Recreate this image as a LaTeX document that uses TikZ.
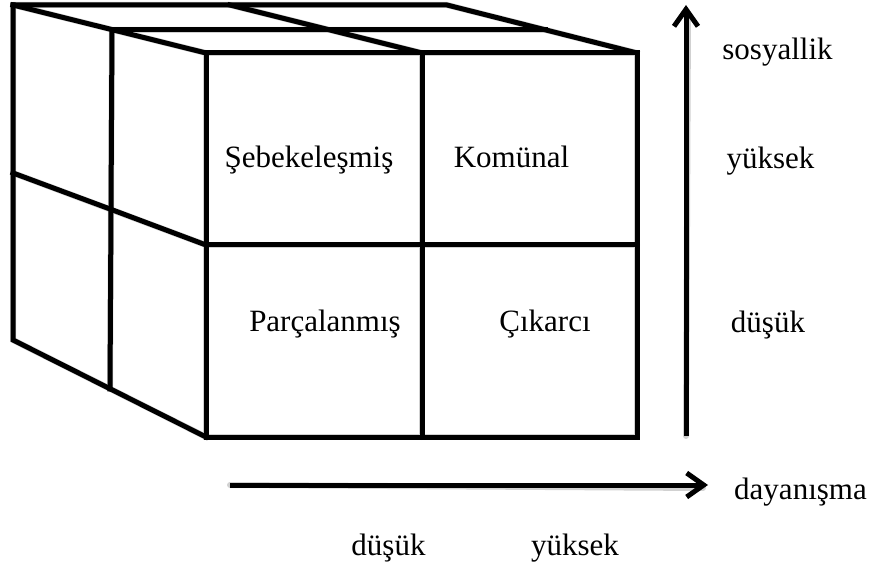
\documentclass[tikz,border=0pt]{standalone}
\usepackage{fontspec}
\setmainfont{Liberation Serif}
\usetikzlibrary{arrows.meta}
\begin{document}
\begin{tikzpicture}[x=1pt,y=-1pt,
  edge/.style={line width=5pt, line join=miter, line cap=rect},
  shade/.style={line width=6pt, black!18, line cap=round},
  axis/.style={line width=5pt, -{Straight Barb[length=17pt,width=24pt,line width=5pt]}},
  lbl/.style={anchor=base, inner sep=0pt, font=\fontsize{31}{36}\selectfont}]
\useasboundingbox (0,0) rectangle (879,572);
% corner coordinates
\coordinate (Ftl) at (206,53);  \coordinate (Ftr) at (637,53);
\coordinate (Fbl) at (206,437); \coordinate (Fbr) at (637,437);
\coordinate (Ftm) at (422,53);  \coordinate (Fbm) at (422,437);
\coordinate (Fml) at (206,245); \coordinate (Fmr) at (637,245);
\coordinate (Mtl) at (112,30);  \coordinate (Mtr) at (545,30);
\coordinate (Mml) at (110,209); \coordinate (Mbl) at (110,389);
\coordinate (Btl) at (13,5);    \coordinate (Btr) at (447,5);
\coordinate (Btm) at (230,5);
\coordinate (Bml) at (13,173);  \coordinate (Bbl) at (13,340);
\coordinate (VA0) at (686,436); \coordinate (VA1) at (686,5);
\coordinate (HA0) at (230,485); \coordinate (HA1) at (708,485);
% soft shadows
\begin{scope}[shift={(2,3)}]
\draw[shade] (Ftl) rectangle (Fbr) (Ftm) -- (Fbm) (Fml) -- (Fmr);
\draw[shade] (Btl) -- (Btr) -- (Ftr) (Btl) -- (Ftl) (Btm) -- (Ftm) (Mtl) -- (Mtr);
\draw[shade] (Btl) -- (Bbl) -- (Fbl) (Bml) -- (Fml) (Mtl) -- (Mbl);
\draw[shade] (VA0) -- (686,12) (HA0) -- (701,485);
\end{scope}
% front face
\draw[edge] (Ftl) rectangle (Fbr);
\draw[edge] (Ftm) -- (Fbm);
\draw[edge] (Fml) -- (Fmr);
% top face
\draw[edge] (Btl) -- (Btr) -- (Ftr);
\draw[edge] (Btl) -- (Ftl);
\draw[edge] (Btm) -- (Ftm);
\draw[edge] (Mtl) -- (Mtr);
% left face
\draw[edge] (Btl) -- (Bbl) -- (Fbl);
\draw[edge] (Bml) -- (Mml) -- (Fml);
\draw[edge] (Mtl) -- (Mbl);
% axes
\draw[axis] (VA0) -- (VA1);
\draw[axis] (HA0) -- (HA1);
% labels
\node[lbl] (seb) at (309,168) {Şebekeleşmiş};
\node[lbl] (kom) at (511.5,168) {Komünal};
\node[lbl] (par) at (325,332) {Parçalanmış};
\node[lbl] (cik) at (545,332) {Çıkarcı};
\node[lbl] (sos) at (777.5,60) {sosyallik};
\node[lbl] (vyu) at (770.5,169) {yüksek};
\node[lbl] (vdu) at (768,333) {düşük};
\node[lbl] (day) at (800.5,499) {dayanışma};
\node[lbl] (hdu) at (388.5,555) {düşük};
\node[lbl] (hyu) at (575,555) {yüksek};
\end{tikzpicture}
\end{document}
